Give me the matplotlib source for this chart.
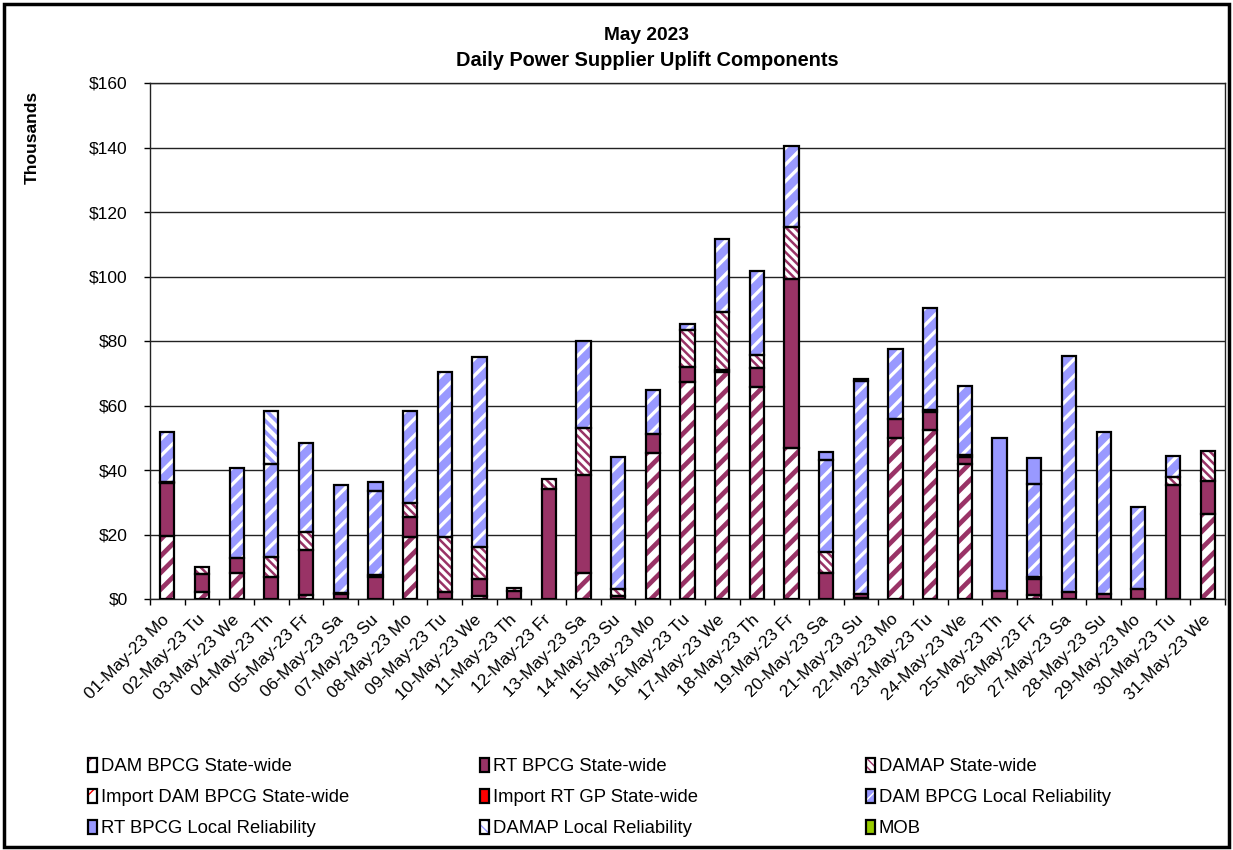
import matplotlib
matplotlib.use("Agg")
import matplotlib.pyplot as plt
import numpy as np
from matplotlib.patches import Patch, Rectangle
from matplotlib.legend_handler import HandlerTuple

plt.rcParams['font.family'] = ['Liberation Sans', 'DejaVu Sans']

days = ["01-May-23 Mo", "02-May-23 Tu", "03-May-23 We", "04-May-23 Th", "05-May-23 Fr",
        "06-May-23 Sa", "07-May-23 Su", "08-May-23 Mo", "09-May-23 Tu", "10-May-23 We",
        "11-May-23 Th", "12-May-23 Fr", "13-May-23 Sa", "14-May-23 Su", "15-May-23 Mo",
        "16-May-23 Tu", "17-May-23 We", "18-May-23 Th", "19-May-23 Fr", "20-May-23 Sa",
        "21-May-23 Su", "22-May-23 Mo", "23-May-23 Tu", "24-May-23 We", "25-May-23 Th",
        "26-May-23 Fr", "27-May-23 Sa", "28-May-23 Su", "29-May-23 Mo", "30-May-23 Tu",
        "31-May-23 We"]

# $ thousands per day
dam_sw = [19.5, 2.3, 8.2, 0, 1.2, 0, 0, 19.3, 0, 1.0, 0, 0, 8.2, 0, 45.4, 67.2,
          70.4, 65.6, 46.7, 0, 0.4, 50.0, 52.4, 41.9, 0, 1.2, 0, 0, 0, 0, 26.4]
rt_sw = [16.4, 5.5, 4.5, 6.9, 14.0, 1.5, 6.7, 6.2, 2.2, 5.1, 2.6, 34.0, 30.1, 1.0, 5.7, 4.7,
         0.6, 5.9, 52.4, 8.2, 1.3, 5.7, 5.7, 2.1, 2.6, 4.9, 2.3, 1.4, 3.0, 35.3, 10.2]
damap_sw = [0.5, 2.0, 0, 6.0, 5.7, 0.5, 0.7, 4.3, 17.1, 10.1, 0.8, 3.1, 14.7, 2.0, 0, 11.6,
            18.1, 4.3, 16.3, 6.5, 0, 0, 0.5, 0.6, 0, 0.6, 0, 0, 0, 2.6, 9.4]
imp_dam_sw = [0] * 31
imp_rt_sw = [0] * 31
dam_local = [15.5, 0, 27.9, 29.1, 27.4, 33.5, 26.2, 28.4, 51.1, 58.8, 0, 0, 27.1, 40.9, 13.7, 1.8,
             22.6, 25.9, 25.1, 28.4, 66.0, 21.8, 31.5, 21.5, 0, 29.1, 72.9, 50.4, 25.5, 6.4, 0]
rt_local = [0, 0, 0, 0, 0, 0, 2.6, 0, 0, 0, 0, 0, 0, 0, 0, 0,
            0, 0, 0, 2.6, 0.5, 0, 0, 0, 47.3, 7.8, 0, 0, 0, 0, 0]
damap_local = [0, 0, 0, 16.2, 0, 0, 0, 0, 0, 0, 0, 0, 0, 0, 0, 0,
               0, 0, 0, 0, 0, 0, 0, 0, 0, 0, 0, 0, 0, 0, 0]
mob = [0] * 31

maroon = "#993366"
lavender = "#9999FF"

# label, values, face, hatch, hatch colour, hatch width
series = [
    ("DAM BPCG State-wide", dam_sw, "white", "//", maroon, 3.4),
    ("RT BPCG State-wide", rt_sw, maroon, None, None, 0),
    ("DAMAP State-wide", damap_sw, "white", "\\\\\\\\", maroon, 1.8),
    ("Import DAM BPCG State-wide", imp_dam_sw, "white", "//", "red", 3.4),
    ("Import RT GP State-wide", imp_rt_sw, "red", None, None, 0),
    ("DAM BPCG Local Reliability", dam_local, lavender, "//", "white", 2.4),
    ("RT BPCG Local Reliability", rt_local, lavender, None, None, 0),
    ("DAMAP Local Reliability", damap_local, "white", "\\\\\\", lavender, 2.6),
    ("MOB", mob, "#99CC00", None, None, 0),
]

fig = plt.figure(figsize=(12.33, 8.5), dpi=100)
ax = fig.add_axes([150 / 1233, 1 - 599 / 850, 1075 / 1233, 516 / 850])

x = np.arange(len(days))
width = 0.41
bottom = np.zeros(len(days))
handles = []

for label, vals, face, hatch, hcol, hlw in series:
    vals = np.array(vals, dtype=float)
    with plt.rc_context({"hatch.linewidth": hlw if hlw else 1.0}):
        fill = ax.bar(x, vals, width, bottom=bottom, color=face, hatch=hatch,
                      edgecolor=hcol if hcol else face, linewidth=0, zorder=2)
        for p in fill:
            if hatch and hasattr(p, "set_hatch_linewidth"):
                p.set_hatch_linewidth(hlw)
        mask = vals > 0
        ax.bar(x[mask], vals[mask], width, bottom=bottom[mask], fill=False,
               edgecolor="black", linewidth=1.6, zorder=3)
        h_fill = Patch(facecolor=face, hatch=hatch, edgecolor=hcol if hcol else face, linewidth=0)
        if hatch and hasattr(h_fill, "set_hatch_linewidth"):
            h_fill.set_hatch_linewidth(hlw)
    h_edge = Patch(fill=False, edgecolor="black", linewidth=1.6)
    handles.append(((h_fill, h_edge), label))
    bottom += vals

ax.set_xlim(-0.5, len(days) - 0.5)
ax.set_ylim(0, 160)
ax.set_yticks(np.arange(0, 161, 20))
ax.set_yticklabels(["$%d" % v for v in range(0, 161, 20)])
ax.yaxis.grid(True, color="#222222", linewidth=1.0, zorder=0)
ax.set_axisbelow(True)

ax.set_xticks(x)
ax.set_xticklabels(days, rotation=45, ha="right", va="center", rotation_mode="anchor")
ax.set_xticks(np.arange(-0.5, len(days), 1), minor=True)
ax.tick_params(axis="x", which="major", length=0, pad=13, labelsize=12.5)
ax.tick_params(axis="x", which="minor", length=4, width=1, direction="out")
ax.tick_params(axis="y", length=4, width=1, direction="out", pad=12, labelsize=12.5)
for s in ax.spines.values():
    s.set_color("#222222")
    s.set_linewidth(1.0)

fig.text(647 / 1233, 1 - 36 / 850, "May 2023", ha="center", va="center",
         fontsize=13.8, fontweight="bold")
fig.text(647 / 1233, 1 - 60 / 850, "Daily Power Supplier Uplift Components", ha="center",
         va="center", fontsize=14.4, fontweight="bold")
fig.text(32 / 1233, 1 - 137 / 850, "Thousands", rotation=90, ha="center", va="center",
         fontsize=12.5, fontweight="bold")

# three legend columns at fixed positions
col_x = [88, 480, 866]
for c in range(3):
    items = handles[c::3]
    fig.legend([h for h, _ in items], [l for _, l in items],
               handler_map={tuple: HandlerTuple(ndivide=1)},
               loc="upper left", bbox_to_anchor=(col_x[c] / 1233, 1 - 758 / 850),
               frameon=False, fontsize=13.3, handlelength=0.5, handleheight=0.75,
               handletextpad=0.2, labelspacing=0.75, borderaxespad=0, borderpad=0)

fig.patches.append(Rectangle((4 / 1233, 3 / 850), 1225 / 1233, 843 / 850, transform=fig.transFigure,
                             fill=False, edgecolor="black", linewidth=2.5))

fig.savefig("out.png", dpi=100)
